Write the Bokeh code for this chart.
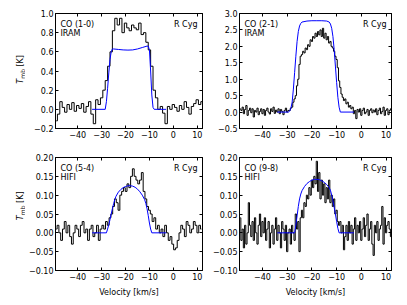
import numpy as np
from bokeh.plotting import figure
from bokeh.layouts import gridplot
from bokeh.models import Range1d, FixedTicker, LinearAxis, Label
from bokeh.embed import file_html
from bokeh.resources import INLINE

# ---------------- data ----------------
panel_titles = ["CO (1-0)", "CO (2-1)", "CO (5-4)", "CO (9-8)"]
panel_telescopes = ["IRAM", "IRAM", "HIFI", "HIFI"]
source_name = "R Cyg"
x_axis_title = "Velocity [km/s]"
y_axis_title = ["T", "mb", "[K]"]   # T_mb [K]

x_ticks = [-40, -30, -20, -10, 0, 10]
x_tick_labels = ["\u221240", "\u221230", "\u221220", "\u221210", "0", "10"]

y_ticks_10 = [-0.2, 0.0, 0.2, 0.4, 0.6, 0.8, 1.0]
y_tick_labels_10 = ["\u22120.2", "0.0", "0.2", "0.4", "0.6", "0.8", "1.0"]
y_ticks_21 = [-0.5, 0.0, 0.5, 1.0, 1.5, 2.0, 2.5, 3.0]
y_tick_labels_21 = ["\u22120.5", "0.0", "0.5", "1.0", "1.5", "2.0", "2.5", "3.0"]
y_ticks_hifi = [-0.10, -0.05, 0.0, 0.05, 0.10, 0.15, 0.20]
y_tick_labels_hifi = ["\u22120.10", "\u22120.05", "0.00", "0.05", "0.10", "0.15", "0.20"]

# observed spectra: first channel velocity, channel width (km/s), T_mb values (K)
co10_v0, co10_dv = -49.0, 1.0
co10_obs = [-0.12, -0.05, 0.08, 0.02, -0.03, 0.05, 0.00, 0.07, -0.02, 0.04,
            0.01, 0.06, -0.03, 0.03, 0.08, -0.05, -0.15, 0.10, 0.05, 0.12,
            0.20, 0.30, 0.45, 0.60, 0.82, 0.95, 0.88, 0.95, 0.80, 0.90,
            0.85, 0.82, 0.88, 0.85, 0.83, 0.90, 0.78, 0.80, 0.70, 0.62,
            0.45, 0.20, 0.12, 0.00, 0.03, -0.04, -0.15, 0.03, 0.00, 0.05,
            0.02, -0.02, 0.04, 0.00, 0.08, 0.02, -0.05, 0.03, 0.06, 0.10,
            0.05, 0.08]

co21_v0, co21_dv = -49.0, 0.5
co21_obs = [0.10, 0.05, 0.15, -0.05, 0.08, 0.20, -0.10, 0.05, 0.12, -0.02,
            0.10, -0.15, 0.05, 0.00, 0.12, -0.08, 0.02, 0.10, -0.05, 0.08,
            -0.10, 0.05, 0.12, 0.00, -0.06, 0.10, 0.02, 0.15, -0.04, 0.06,
            0.00, 0.10, -0.05, 0.08, 0.02, -0.08, 0.05, 0.12, 0.00, 0.05,
            0.05, 0.12, 0.15, 0.30, 0.40, 0.50, 0.80, 1.00, 1.45, 1.70,
            1.75, 1.85, 1.80, 1.95, 1.90, 2.05, 2.00, 2.20, 2.15, 2.30,
            2.25, 2.40, 2.30, 2.45, 2.35, 2.50, 2.30, 2.55, 2.25, 2.40,
            2.20, 2.30, 2.10, 2.15, 2.00, 1.95, 1.85, 1.70, 1.60, 1.35,
            0.95, 0.75, 0.55, 0.45, 0.35, 0.40, 0.25, 0.30, 0.15, 0.20,
            0.10, 0.15, -0.05, 0.05, -0.20, 0.08, 0.00, 0.10, -0.10, 0.05,
            0.12, -0.05, 0.00, 0.08, -0.10, 0.05, 0.10, -0.02, 0.06, 0.00,
            0.10, -0.08, 0.05, 0.12, -0.05, 0.02, 0.15, -0.10, 0.05, 0.10,
            -0.08, 0.05, 0.10]

co54_v0, co54_dv = -49.0, 0.75
co54_obs = [0.01, 0.02, 0.00, -0.02, 0.01, 0.03, 0.00, 0.02, -0.01, -0.03,
            0.00, 0.02, 0.01, -0.01, 0.02, 0.03, 0.00, 0.01, -0.02, 0.01,
            0.02, -0.01, 0.00, 0.02, -0.02, 0.01, 0.02, 0.01, 0.03, 0.02,
            0.04, 0.05, 0.07, 0.09, 0.08, 0.06, 0.10, 0.11, 0.12, 0.11,
            0.13, 0.12, 0.15, 0.17, 0.15, 0.14, 0.13, 0.14, 0.16, 0.11,
            0.09, 0.07, 0.06, 0.05, 0.03, 0.04, 0.01, 0.02, 0.00, 0.01,
            -0.01, 0.02, 0.00, -0.02, -0.01, -0.03, -0.045, -0.04, -0.02, 0.00,
            0.02, 0.01, -0.01, 0.03, 0.02, 0.00, 0.01, 0.03, 0.02, 0.00,
            0.02, 0.01]

co98_v0, co98_dv = -49.0, 0.5
co98_obs = [0.04, -0.02, 0.01, -0.04, 0.02, -0.03, 0.00, 0.08, 0.02, -0.01,
            0.03, -0.02, 0.04, 0.00, -0.03, 0.02, 0.05, -0.01, 0.03, 0.00,
            0.04, -0.02, 0.01, 0.03, -0.04, 0.00, 0.02, -0.03, 0.01, 0.04,
            -0.02, 0.02, 0.00, -0.04, 0.03, 0.01, -0.02, 0.02, -0.05, 0.00,
            0.01, -0.03, 0.02, 0.00, -0.02, 0.05, 0.01, 0.03, -0.05, 0.04,
            0.06, 0.04, 0.08, 0.07, 0.10, 0.09, 0.12, 0.10, 0.14, 0.12,
            0.15, 0.13, 0.19, 0.11, 0.16, 0.09, 0.14, 0.10, 0.13, 0.08,
            0.12, 0.09, 0.14, 0.08, 0.10, 0.07, 0.09, 0.05, 0.06, 0.03,
            0.02, 0.03, 0.00, 0.02, -0.045, -0.01, 0.02, -0.02, 0.03, 0.00,
            0.02, -0.03, 0.01, 0.04, -0.02, 0.02, 0.00, 0.03, -0.02, 0.01,
            0.04, -0.01, 0.02, 0.05, -0.02, 0.01, 0.03, -0.03, -0.06, 0.02,
            0.00, 0.03, -0.02, 0.01, 0.02, 0.07, -0.03, 0.04, 0.00, 0.02,
            0.03, 0.01, -0.01]

# model line profiles (velocity km/s, T_mb K)
co10_model_v = [-34, -28.5, -28, -27.5, -27, -26.5, -26, -25.5, -25, -23, -21, -19,
                -17, -15, -13, -11, -10.5, -10, -9.5, -9, -8.5, -8, -3]
co10_model_t = [0, 0, 0.08, 0.22, 0.38, 0.52, 0.60, 0.63, 0.63, 0.625, 0.62, 0.618,
                0.62, 0.63, 0.645, 0.66, 0.66, 0.62, 0.40, 0.15, 0.02, 0, 0]

co21_model_v = [-34, -29.5, -29, -28.5, -28, -27.5, -27, -26.5, -26, -25.5, -25, -24.5,
                -24, -22, -20, -18, -16, -14, -13, -12.5, -12, -11.5, -11, -10.5,
                -10, -9.5, -9, -8.5, -3]
co21_model_t = [0, 0, 0.03, 0.12, 0.30, 0.70, 1.20, 1.70, 2.15, 2.45, 2.62, 2.70,
                2.74, 2.77, 2.78, 2.78, 2.78, 2.77, 2.74, 2.68, 2.55, 2.30, 1.90, 1.40,
                0.90, 0.45, 0.15, 0.0, 0]

co54_model_v = [-34, -28, -27.5, -27, -26.5, -26, -25.5, -25, -24.5, -24, -23, -22,
                -21, -20, -19, -18, -17, -16, -15, -14, -13, -12, -11.5, -11,
                -10.5, -10, -9.5, -9, -3]
co54_model_t = [0, 0, 0.01, 0.022, 0.035, 0.05, 0.064, 0.077, 0.088, 0.097, 0.108, 0.115,
                0.12, 0.123, 0.125, 0.125, 0.124, 0.121, 0.116, 0.109, 0.10, 0.088, 0.078, 0.064,
                0.046, 0.026, 0.01, 0, 0]

co98_model_v = [-34, -27, -26.5, -26, -25.5, -25, -24.5, -24, -23, -22, -21, -20,
                -19, -18, -17, -16, -15, -14, -13, -12.5, -12, -11.5, -11, -10.5,
                -10, -9.5, -9, -3]
co98_model_t = [0, 0, 0.02, 0.045, 0.07, 0.09, 0.103, 0.112, 0.123, 0.131, 0.136, 0.14,
                0.142, 0.142, 0.141, 0.138, 0.134, 0.128, 0.12, 0.113, 0.10, 0.085, 0.068, 0.05,
                0.03, 0.012, 0, 0]

# ---------------- plotting ----------------
FONT = "DejaVu Sans"
FS = "8px"
X_RANGE = (-49.3, 12.2)


def channels(v0, dv, vals):
    return v0 + dv * np.arange(len(vals))


def style_axis(ax, show_labels=True):
    ax.axis_line_color = "black"
    ax.axis_line_width = 1
    ax.major_tick_line_color = "black"
    ax.major_tick_line_width = 1
    ax.major_tick_in = 3
    ax.major_tick_out = 0
    ax.minor_tick_line_color = None
    ax.major_label_text_font = FONT
    if show_labels:
        ax.major_label_text_font_size = FS
        ax.major_label_text_color = "black"
    else:
        ax.major_label_text_font_size = "0px"
        ax.major_label_text_color = None
        ax.major_label_standoff = 0


def make_panel(width, height, bl, br, bt, bb, y_range, y_ticks, y_labels,
               obs_v, obs_t, mod_v, mod_t, title, tele, bottom_row):
    p = figure(width=width, height=height, x_range=Range1d(*X_RANGE),
               y_range=Range1d(*y_range), output_backend="svg",
               toolbar_location=None, min_border_left=bl, min_border_right=br,
               min_border_top=bt, min_border_bottom=bb,
               background_fill_color="white", border_fill_color="white")
    p.xgrid.grid_line_color = None
    p.ygrid.grid_line_color = None
    p.outline_line_color = "black"

    xax = p.below[0]
    yax = p.left[0]
    xax.ticker = FixedTicker(ticks=x_ticks)
    xax.major_label_overrides = dict(zip(x_ticks, x_tick_labels))
    yax.ticker = FixedTicker(ticks=y_ticks)
    yax.major_label_overrides = dict(zip(y_ticks, y_labels))
    style_axis(xax)
    style_axis(yax)
    xax.major_label_standoff = 2
    yax.major_label_standoff = 2

    if bottom_row:
        xax.axis_label = x_axis_title
        xax.axis_label_text_font = FONT
        xax.axis_label_text_font_size = FS
        xax.axis_label_text_font_style = "normal"
        xax.axis_label_text_color = "black"
        xax.axis_label_standoff = 5

    top_ax = LinearAxis(ticker=FixedTicker(ticks=x_ticks))
    right_ax = LinearAxis(ticker=FixedTicker(ticks=y_ticks))
    style_axis(top_ax, False)
    style_axis(right_ax, False)
    p.add_layout(top_ax, "above")
    p.add_layout(right_ax, "right")

    p.step(obs_v, obs_t, mode="center", line_color="black", line_width=1.0)
    p.line(mod_v, mod_t, line_color="#0000ff", line_width=1.0)

    xmin, xmax = X_RANGE
    ymin, ymax = y_range
    common = dict(x_units="data", y_units="data", text_font=FONT,
                  text_font_size=FS, text_color="black")
    p.add_layout(Label(x=xmin, y=ymax, x_offset=5, y_offset=-6, text=title,
                       text_align="left", text_baseline="top", **common))
    p.add_layout(Label(x=xmin, y=ymax, x_offset=5, y_offset=-15, text=tele,
                       text_align="left", text_baseline="top", **common))
    p.add_layout(Label(x=xmax, y=ymax, x_offset=-5, y_offset=-6, text=source_name,
                       text_align="right", text_baseline="top", **common))
    return p


def make_ylabel(width, height, yc):
    # narrow strip holding the rotated y-axis title T_mb [K]
    f = figure(width=width, height=height, x_range=Range1d(0, width),
               y_range=Range1d(0, height), output_backend="svg",
               toolbar_location=None, min_border=0,
               x_axis_location=None, y_axis_location=None,
               background_fill_color="white", border_fill_color="white")
    f.outline_line_color = None
    f.xgrid.grid_line_color = None
    f.ygrid.grid_line_color = None
    xc = 20
    common = dict(x=xc, y=yc, x_units="data", y_units="data", text_font=FONT,
                  text_color="black", angle=np.pi / 2, text_align="left",
                  text_baseline="middle")
    f.add_layout(Label(y_offset=-14.3, text=y_axis_title[0], text_font_size=FS,
                       text_font_style="italic", **common))
    f.add_layout(Label(y_offset=-9.3, x_offset=2, text=y_axis_title[1],
                       text_font_size="6px", **common))
    f.add_layout(Label(y_offset=2.9, text=y_axis_title[2], text_font_size=FS,
                       **common))
    return f


LW = 25
TOP_H, BOT_H = 145, 160
lab1 = make_ylabel(LW, TOP_H, 74.5)
lab3 = make_ylabel(LW, BOT_H, 91.5)

p1 = make_panel(182, TOP_H, 27, 5, 13, 17, (-0.2, 1.0), y_ticks_10, y_tick_labels_10,
                channels(co10_v0, co10_dv, co10_obs), co10_obs, co10_model_v, co10_model_t,
                panel_titles[0], panel_telescopes[0], False)
p2 = make_panel(200, TOP_H, 32, 16, 13, 17, (-0.5, 3.0), y_ticks_21, y_tick_labels_21,
                channels(co21_v0, co21_dv, co21_obs), co21_obs, co21_model_v, co21_model_t,
                panel_titles[1], panel_telescopes[1], False)
p3 = make_panel(182, BOT_H, 27, 5, 12, 35, (-0.10, 0.20), y_ticks_hifi, y_tick_labels_hifi,
                channels(co54_v0, co54_dv, co54_obs), co54_obs, co54_model_v, co54_model_t,
                panel_titles[2], panel_telescopes[2], True)
p4 = make_panel(200, BOT_H, 32, 16, 12, 35, (-0.10, 0.20), y_ticks_hifi, y_tick_labels_hifi,
                channels(co98_v0, co98_dv, co98_obs), co98_obs, co98_model_v, co98_model_t,
                panel_titles[3], panel_telescopes[3], True)

grid = gridplot([[lab1, p1, p2], [lab3, p3, p4]], toolbar_location=None)

with open("out.html", "w") as f:
    f.write(file_html(grid, INLINE))
